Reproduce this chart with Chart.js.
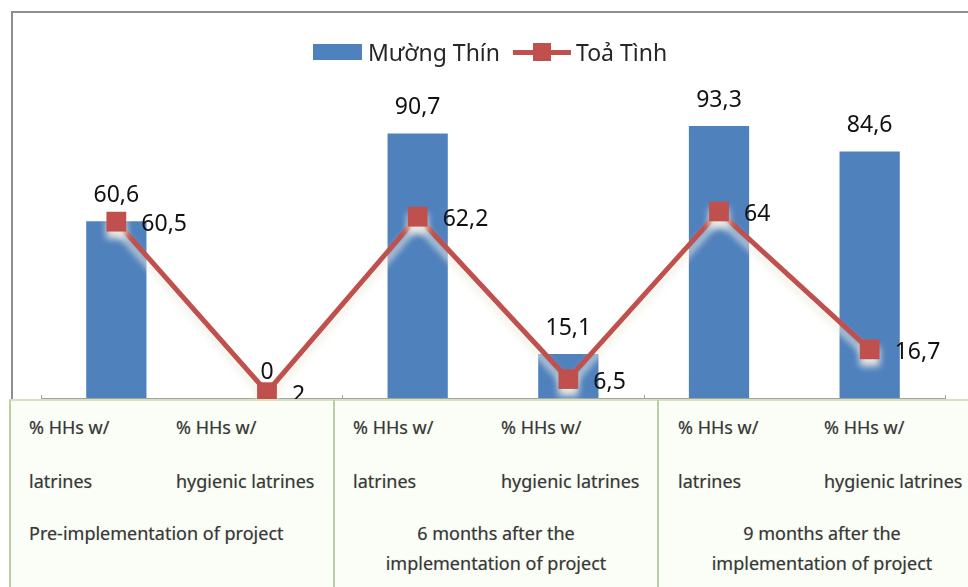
<!DOCTYPE html>
<html>
<head>
<meta charset="utf-8">
<script src="https://cdn.jsdelivr.net/npm/chart.js@4.4.1/dist/chart.umd.min.js"></script>
<style>
  html, body { margin: 0; padding: 0; background: #fff; }
  #wrap { position: relative; width: 968px; height: 587px; overflow: hidden; font-family: "Noto Sans", sans-serif; }
  #frame { position: absolute; left: 11px; top: 11px; width: 980px; height: 390px; border-left: 2px solid #8f8f8f; border-top: 2px solid #8f8f8f; box-sizing: border-box; }
  #chart { position: absolute; left: 0; top: 0; }
  #legend { position: absolute; left: 313px; top: 36px; height: 32px; display: flex; align-items: center; font-size: 23px; color: #262626; white-space: nowrap; }
  .sw-bar { width: 49px; height: 16px; margin-right: 6px; }
  .sw-line { position: relative; width: 58px; height: 20px; margin: 0 5px 0 13px; }
  .sw-line .ln { position: absolute; left: 0; right: 0; top: 8px; height: 5px; }
  .sw-line .pt { position: absolute; left: 20px; top: 1px; width: 18px; height: 18px; }
  .group { position: absolute; top: 399px; height: 200px; box-sizing: border-box; border-top: 2px solid #d3e3c2; border-left: 2px solid #b9cfa2; background: #fbfdf7; }
  .cell { position: absolute; font-size: 18px; line-height: 24px; color: #383838; white-space: nowrap; text-shadow: 0 0 1px rgba(60,60,60,0.4); }
  .period { position: absolute; font-size: 18px; line-height: 30px; color: #383838; white-space: nowrap; text-shadow: 0 0 1px rgba(60,60,60,0.4); }
</style>
</head>
<body>
<div id="wrap">
  <div id="frame"></div>
  <canvas id="chart" width="968" height="587"></canvas>
  <div id="legend"></div>
  <div id="table"></div>
</div>
<script>
// Category labels (two lines each) and the survey period each pair belongs to
const categories = [
  ['% HHs w/', 'latrines'],
  ['% HHs w/', 'hygienic latrines'],
  ['% HHs w/', 'latrines'],
  ['% HHs w/', 'hygienic latrines'],
  ['% HHs w/', 'latrines'],
  ['% HHs w/', 'hygienic latrines']
];
const periods = [
  ['Pre-implementation of project'],
  ['6 months after the', 'implementation of project'],
  ['9 months after the', 'implementation of project']
];

// Commune names and their percentages
const seriesNames = ['Mường Thín', 'Toả Tình'];
const muongThin = [60.6, 0, 90.7, 15.1, 93.3, 84.6];
const toaTinh = [60.5, 2, 62.2, 6.5, 64, 16.7];

const BLUE = '#4F81BD';
const RED = '#C0504D';

const fmt = v => String(v).replace('.', ',');

// Value labels: above each bar, to the right of each line point
const valueLabels = {
  id: 'valueLabels',
  afterDatasetsDraw(chart) {
    const ctx = chart.ctx;
    ctx.save();
    ctx.font = '23px "Noto Sans"';
    ctx.fillStyle = '#111';
    ctx.textBaseline = 'middle';
    chart.data.datasets.forEach((ds, i) => {
      const meta = chart.getDatasetMeta(i);
      meta.data.forEach((el, j) => {
        const txt = fmt(ds.data[j]);
        if (ds.type === 'bar') {
          ctx.textAlign = 'center';
          ctx.fillText(txt, el.x, el.y - 26);
        } else {
          ctx.textAlign = 'left';
          ctx.fillText(txt, el.x + 25, el.y + 3);
        }
      });
    });
    ctx.restore();
  }
};

// Soft light glow under the line series
const lineGlow = {
  id: 'lineGlow',
  beforeDatasetDraw(chart, args) {
    if (chart.data.datasets[args.index].type !== 'line') return;
    const ctx = chart.ctx;
    ctx.save();
    ctx.shadowColor = 'rgba(238,236,226,0.95)';
    ctx.shadowBlur = 7;
    ctx.shadowOffsetX = 0;
    ctx.shadowOffsetY = 7;
  },
  afterDatasetDraw(chart, args) {
    if (chart.data.datasets[args.index].type !== 'line') return;
    chart.ctx.restore();
  }
};

// Category axis base line with ticks between the period groups
const baseLine = {
  id: 'baseLine',
  beforeDatasetsDraw(chart) {
    const { ctx, chartArea: a } = chart;
    const x = chart.scales.x;
    const step = (a.right - a.left) / categories.length;
    ctx.save();
    ctx.strokeStyle = '#a3a3a3';
    ctx.lineWidth = 1;
    ctx.beginPath();
    ctx.moveTo(a.left, a.bottom + 0.5);
    ctx.lineTo(a.right, a.bottom + 0.5);
    for (let k = 0; k <= periods.length; k++) {
      const px = Math.round(x.left + k * 2 * step) + 0.5;
      ctx.moveTo(px, a.bottom - 3);
      ctx.lineTo(px, a.bottom + 1);
    }
    ctx.stroke();
    ctx.restore();
  }
};

const chart = new Chart(document.getElementById('chart'), {
  data: {
    labels: categories.map(c => c.join(' ')),
    datasets: [
      {
        type: 'bar',
        label: seriesNames[0],
        data: muongThin,
        backgroundColor: BLUE,
        categoryPercentage: 1,
        barPercentage: 0.4,
        order: 2
      },
      {
        type: 'line',
        label: seriesNames[1],
        data: toaTinh,
        borderColor: RED,
        borderWidth: 5,
        pointStyle: 'rect',
        pointRadius: 14,
        pointHoverRadius: 14,
        pointBackgroundColor: RED,
        pointBorderColor: RED,
        pointBorderWidth: 0,
        tension: 0,
        clip: false,
        order: 1
      }
    ]
  },
  options: {
    responsive: false,
    animation: false,
    events: [],
    layout: { padding: { top: 106.5, bottom: 189, left: 41, right: 23 } },
    scales: {
      x: { display: false, offset: true },
      y: { display: false, min: 0, max: 100 }
    },
    plugins: {
      legend: { display: false },
      tooltip: { enabled: false }
    }
  },
  plugins: [baseLine, lineGlow, valueLabels]
});

// Legend built from the chart's datasets
const legend = document.getElementById('legend');
chart.data.datasets.forEach(ds => {
  const sw = document.createElement('div');
  if (ds.type === 'bar') {
    sw.className = 'sw-bar';
    sw.style.background = ds.backgroundColor;
  } else {
    sw.className = 'sw-line';
    sw.innerHTML = '<div class="ln"></div><div class="pt"></div>';
    sw.querySelector('.ln').style.background = ds.borderColor;
    sw.querySelector('.pt').style.background = ds.pointBackgroundColor;
  }
  const label = document.createElement('span');
  label.textContent = ds.label;
  legend.appendChild(sw);
  legend.appendChild(label);
});

// Two-level category table under the plot
const table = document.getElementById('table');
const groupBoxes = [
  { left: 9, width: 326, colA: 29, colB: 176, align: 'left' },
  { left: 333, width: 326, colA: 353, colB: 501, align: 'center' },
  { left: 657, width: 330, colA: 678, colB: 824, align: 'center' }
];
const rowTop = [415, 469];
periods.forEach((p, g) => {
  const box = groupBoxes[g];
  const div = document.createElement('div');
  div.className = 'group';
  div.style.left = box.left + 'px';
  div.style.width = box.width + 'px';
  table.appendChild(div);

  [categories[2 * g], categories[2 * g + 1]].forEach((cat, c) => {
    cat.forEach((line, r) => {
      const s = document.createElement('div');
      s.className = 'cell';
      s.textContent = line;
      s.style.left = (c === 0 ? box.colA : box.colB) + 'px';
      s.style.top = rowTop[r] + 'px';
      table.appendChild(s);
    });
  });

  const per = document.createElement('div');
  per.className = 'period';
  per.innerHTML = p.map(t => t.replace(/&/g, '&amp;').replace(/</g, '&lt;')).join('<br>');
  per.style.top = '518px';
  if (box.align === 'left') {
    per.style.left = box.colA + 'px';
  } else {
    per.style.left = (box.left + 2) + 'px';
    per.style.width = (box.width - 4) + 'px';
    per.style.textAlign = 'center';
  }
  table.appendChild(per);
});
</script>
</body>
</html>
